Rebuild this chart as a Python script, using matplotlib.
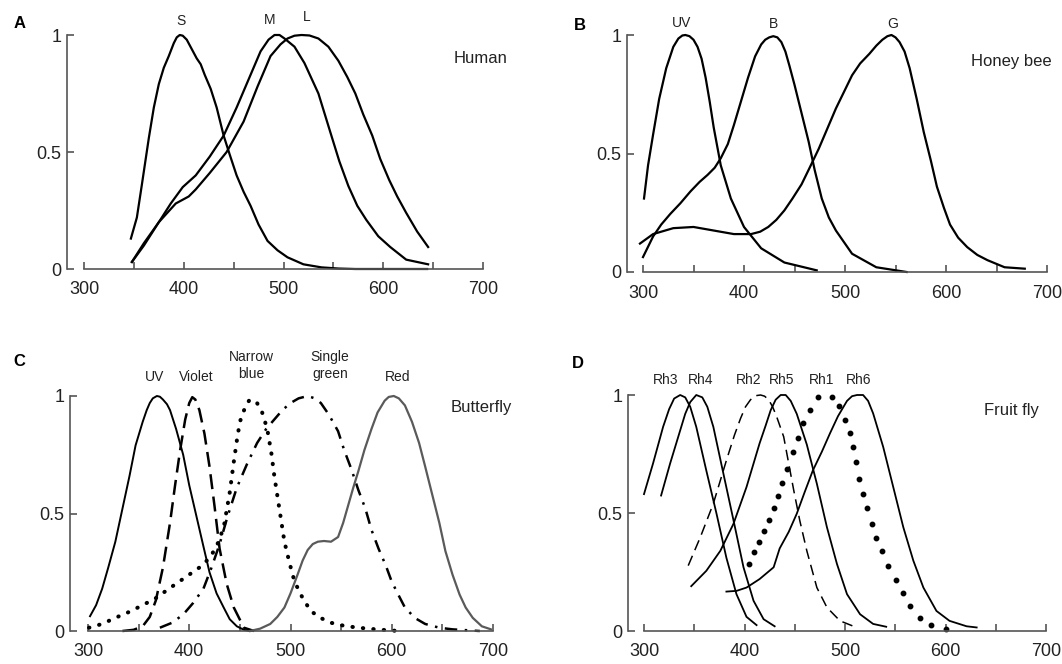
import matplotlib
matplotlib.use('Agg')
import matplotlib.pyplot as plt
from matplotlib.ticker import FixedLocator, NullFormatter

plt.rcParams['font.family'] = ['Liberation Sans', 'DejaVu Sans']

# ---------------- data (wavelength nm, normalised sensitivity) ----------------
# A: Human cones
human_s_wl = [347, 353, 358, 365, 370, 375, 380, 385, 390, 393, 396, 399, 403, 408, 413, 417, 421, 427, 433, 440, 446, 453, 460, 467, 475, 484, 494, 504, 520, 538, 555, 572, 600, 644]
human_s_val = [0.13, 0.22, 0.36, 0.56, 0.69, 0.79, 0.86, 0.91, 0.965, 0.99, 1.0, 0.997, 0.98, 0.94, 0.90, 0.875, 0.83, 0.77, 0.69, 0.57, 0.49, 0.40, 0.33, 0.27, 0.19, 0.12, 0.08, 0.05, 0.02, 0.007, 0.002, 0.0, 0.0, 0.0]
human_m_wl = [348, 360, 375, 387, 399, 412, 426, 440, 453, 467, 477, 485, 491, 496, 501, 511, 521, 535, 548, 556, 565, 574, 583, 595, 607, 623, 645]
human_m_val = [0.03, 0.10, 0.20, 0.28, 0.35, 0.40, 0.48, 0.57, 0.69, 0.83, 0.93, 0.98, 1.0, 1.0, 0.985, 0.95, 0.88, 0.75, 0.57, 0.46, 0.355, 0.27, 0.21, 0.14, 0.094, 0.04, 0.02]
human_l_wl = [348, 360, 375, 392, 405, 412, 426, 443, 460, 474, 487, 497, 504, 511, 518, 526, 535, 545, 555, 564, 572, 580, 589, 597, 606, 614, 623, 634, 645]
human_l_val = [0.03, 0.11, 0.20, 0.28, 0.31, 0.34, 0.41, 0.50, 0.63, 0.78, 0.91, 0.96, 0.985, 0.997, 1.0, 0.998, 0.985, 0.95, 0.89, 0.82, 0.75, 0.66, 0.57, 0.47, 0.38, 0.31, 0.24, 0.16, 0.094]

# B: Honey bee
bee_uv_wl = [301, 305, 310, 316, 323, 330, 335, 339, 342, 346, 350, 354, 358, 362, 366, 370, 377, 387, 400, 417, 440, 472]
bee_uv_val = [0.31, 0.45, 0.58, 0.73, 0.86, 0.95, 0.985, 0.998, 1.0, 0.995, 0.98, 0.95, 0.90, 0.82, 0.72, 0.61, 0.45, 0.31, 0.19, 0.10, 0.04, 0.007]
bee_b_wl = [300, 310, 318, 327, 337, 347, 356, 364, 371, 377, 384, 390, 397, 404, 411, 417, 421, 425, 429, 433, 437, 441, 445, 450, 457, 464, 470, 477, 484, 491, 507, 531, 561]
bee_b_val = [0.063, 0.15, 0.20, 0.245, 0.29, 0.34, 0.38, 0.41, 0.44, 0.48, 0.54, 0.62, 0.72, 0.82, 0.91, 0.96, 0.98, 0.99, 0.995, 0.99, 0.97, 0.93, 0.87, 0.79, 0.67, 0.55, 0.43, 0.31, 0.23, 0.175, 0.077, 0.02, 0.0]
bee_g_wl = [297, 310, 330, 350, 370, 390, 407, 416, 424, 432, 440, 448, 457, 465, 474, 482, 491, 499, 507, 515, 524, 531, 537, 542, 546, 550, 554, 559, 564, 571, 578, 585, 591, 598, 604, 612, 621, 631, 641, 658, 678]
bee_g_val = [0.12, 0.16, 0.185, 0.19, 0.175, 0.16, 0.16, 0.17, 0.19, 0.22, 0.26, 0.31, 0.37, 0.44, 0.52, 0.60, 0.69, 0.76, 0.83, 0.88, 0.92, 0.955, 0.98, 0.995, 1.0, 0.99, 0.97, 0.93, 0.86, 0.73, 0.59, 0.47, 0.36, 0.27, 0.20, 0.145, 0.105, 0.072, 0.05, 0.02, 0.014]

# C: Butterfly
bf_uv_wl = [302, 308, 314, 320, 327, 334, 341, 347, 354, 358, 361, 364, 368, 371, 374, 378, 381, 387, 394, 400, 407, 414, 420, 427, 434, 440, 447, 454, 460]
bf_uv_val = [0.063, 0.11, 0.18, 0.27, 0.38, 0.52, 0.66, 0.79, 0.89, 0.94, 0.97, 0.99, 1.0, 0.997, 0.985, 0.965, 0.94, 0.86, 0.75, 0.62, 0.49, 0.36, 0.25, 0.16, 0.10, 0.05, 0.02, 0.005, 0.0]
bf_violet_wl = [334, 345, 354, 361, 367, 374, 381, 386, 391, 396, 400, 403, 406, 410, 415, 420, 425, 430, 437, 444, 454, 464]
bf_violet_val = [0.0, 0.005, 0.02, 0.06, 0.13, 0.27, 0.46, 0.62, 0.77, 0.90, 0.97, 0.995, 0.985, 0.94, 0.84, 0.70, 0.53, 0.35, 0.20, 0.10, 0.014, 0.0]
bf_nblue_wl = [301, 314, 327, 340, 354, 367, 380, 390, 400, 410, 420, 427, 434, 440, 444, 447, 450, 455, 459, 463, 467, 472, 477, 481, 484, 489, 494, 499, 504, 512, 520, 530, 540, 553, 567, 587, 607]
bf_nblue_val = [0.014, 0.03, 0.056, 0.08, 0.11, 0.14, 0.18, 0.21, 0.24, 0.27, 0.31, 0.36, 0.44, 0.59, 0.72, 0.81, 0.89, 0.95, 0.98, 0.985, 0.97, 0.93, 0.86, 0.76, 0.66, 0.52, 0.38, 0.29, 0.21, 0.14, 0.085, 0.055, 0.035, 0.022, 0.014, 0.006, 0.0]
bf_green_wl = [371, 383, 394, 404, 414, 422, 430, 438, 447, 457, 467, 476, 484, 492, 500, 508, 517, 524, 530, 538, 547, 553, 560, 567, 574, 580, 587, 594, 600, 607, 613, 623, 633, 647, 660, 687]
bf_green_val = [0.014, 0.035, 0.07, 0.12, 0.18, 0.27, 0.37, 0.49, 0.61, 0.71, 0.80, 0.86, 0.90, 0.94, 0.97, 0.99, 1.0, 0.99, 0.97, 0.92, 0.85, 0.77, 0.69, 0.60, 0.52, 0.43, 0.35, 0.28, 0.21, 0.15, 0.10, 0.055, 0.03, 0.014, 0.007, 0.0]
bf_red_wl = [460, 470, 480, 487, 494, 500, 507, 512, 517, 522, 527, 533, 540, 547, 552, 557, 562, 567, 573, 580, 586, 593, 597, 602, 607, 613, 620, 627, 633, 640, 647, 653, 660, 667, 673, 680, 689, 698]
bf_red_val = [0.0, 0.01, 0.03, 0.06, 0.10, 0.16, 0.24, 0.30, 0.345, 0.37, 0.38, 0.383, 0.38, 0.40, 0.46, 0.535, 0.61, 0.68, 0.77, 0.86, 0.93, 0.98, 0.996, 1.0, 0.99, 0.96, 0.89, 0.80, 0.70, 0.58, 0.46, 0.34, 0.24, 0.155, 0.10, 0.056, 0.02, 0.007]

# D: Fruit fly
fly_rh3_wl = [300, 309, 319, 325, 330, 336, 341, 346, 352, 362, 372, 382, 392, 402, 412]
fly_rh3_val = [0.58, 0.71, 0.865, 0.94, 0.985, 1.0, 0.99, 0.95, 0.865, 0.68, 0.50, 0.31, 0.156, 0.06, 0.025]
fly_rh4_wl = [317, 326, 336, 341, 346, 352, 358, 363, 369, 379, 389, 399, 409, 419, 430]
fly_rh4_val = [0.574, 0.71, 0.85, 0.92, 0.97, 1.0, 0.99, 0.95, 0.865, 0.667, 0.47, 0.27, 0.128, 0.05, 0.02]
fly_rh2_wl = [344, 356, 369, 382, 390, 396, 401, 406, 411, 416, 420, 424, 428, 432, 439, 449, 455, 462, 472, 482, 495, 512]
fly_rh2_val = [0.277, 0.397, 0.54, 0.723, 0.83, 0.90, 0.95, 0.98, 0.997, 1.0, 0.995, 0.98, 0.95, 0.908, 0.823, 0.596, 0.468, 0.34, 0.184, 0.10, 0.043, 0.014]
fly_rh5_wl = [347, 362, 376, 389, 402, 415, 421, 426, 431, 436, 441, 446, 452, 462, 472, 482, 492, 502, 515, 528, 541]
fly_rh5_val = [0.19, 0.255, 0.34, 0.454, 0.61, 0.795, 0.87, 0.935, 0.98, 1.0, 1.0, 0.975, 0.92, 0.79, 0.624, 0.44, 0.284, 0.156, 0.071, 0.03, 0.018]
fly_rh1_wl = [404, 409, 414, 419, 424, 429, 433, 437, 442, 448, 453.5, 458.5, 465, 473.5, 487, 494, 500, 505, 508, 511, 514, 518, 522, 527, 531, 536.5, 543, 551, 557.5, 565, 575, 586, 600]
fly_rh1_val = [0.286, 0.333, 0.376, 0.423, 0.471, 0.522, 0.574, 0.627, 0.688, 0.759, 0.816, 0.88, 0.936, 0.993, 0.99, 0.953, 0.894, 0.84, 0.78, 0.716, 0.646, 0.582, 0.52, 0.454, 0.394, 0.337, 0.277, 0.216, 0.163, 0.106, 0.057, 0.026, 0.01]
fly_rh6_wl = [382, 392, 402, 415, 429, 435, 444, 452, 460, 468, 477, 485, 493, 502, 507, 512, 518, 523, 528, 538, 548, 558, 568, 578, 591, 604, 621, 631]
fly_rh6_val = [0.167, 0.17, 0.184, 0.22, 0.27, 0.35, 0.42, 0.497, 0.59, 0.68, 0.76, 0.837, 0.91, 0.975, 0.995, 1.0, 1.0, 0.975, 0.922, 0.78, 0.61, 0.44, 0.298, 0.184, 0.085, 0.043, 0.02, 0.015]

xtick_major = [300, 400, 500, 600, 700]
xtick_minor = [350, 450, 550, 650]
ytick_vals = [0, 0.5, 1]
ytick_labels = ['0', '0.5', '1']

W, H = 1062, 664
fig = plt.figure(figsize=(W / 100, H / 100), dpi=100)
fig.patch.set_facecolor('white')

AXIS_COLOR = '#555555'
TEXT_COLOR = '#222222'


def make_axes(yaxis_px, x300_px, x700_px, y1_px, y0_px):
    """Place an axes so that data coords map onto the scanned pixel layout."""
    ppn = (x700_px - x300_px) / 400.0
    ppu = (y0_px - y1_px) / 1.0
    right_px = x700_px + 14
    top_px = y1_px - 30
    bot_px = y0_px + 6
    ax = fig.add_axes([yaxis_px / W, 1 - bot_px / H,
                       (right_px - yaxis_px) / W, (bot_px - top_px) / H])
    ax.set_xlim(300 - (x300_px - yaxis_px) / ppn, 700 + 14 / ppn)
    ax.set_ylim(-6 / ppu, 1 + 30 / ppu)
    ax.patch.set_alpha(0)
    for side in ['top', 'right']:
        ax.spines[side].set_visible(False)
    ax.spines['left'].set_bounds(0, 1)
    ax.spines['bottom'].set_bounds(300, 700)
    ax.spines['bottom'].set_position(('data', 0))
    for side in ['left', 'bottom']:
        ax.spines[side].set_color(AXIS_COLOR)
        ax.spines[side].set_linewidth(1.2)
    ax.xaxis.set_major_locator(FixedLocator(xtick_major))
    ax.xaxis.set_minor_locator(FixedLocator(xtick_minor))
    ax.xaxis.set_minor_formatter(NullFormatter())
    ax.set_yticks(ytick_vals)
    ax.set_yticklabels(ytick_labels)
    ax.tick_params(axis='both', which='both', direction='in', length=5,
                   width=1.2, color=AXIS_COLOR, labelsize=13, labelcolor=TEXT_COLOR)
    ax.tick_params(axis='x', which='major', pad=9)
    ax.tick_params(axis='y', pad=4)
    return ax


def label(ax, x, y, s, size=10):
    ax.text(x, y, s, ha='center', va='center', fontsize=size, color=TEXT_COLOR,
            linespacing=1.3, clip_on=False)


LW = 1.6

# ---- A: Human ----
axA = make_axes(67, 84, 483, 35, 269)
axA.plot(human_s_wl, human_s_val, color='black', lw=LW)
axA.plot(human_m_wl, human_m_val, color='black', lw=LW)
axA.plot(human_l_wl, human_l_val, color='black', lw=LW)
label(axA, 397, 1.06, 'S')
label(axA, 486, 1.065, 'M')
label(axA, 523, 1.075, 'L')
label(axA, 698, 0.90, 'Human', 12)

# ---- B: Honey bee ----
axB = make_axes(627, 643, 1047, 35, 272)
axB.plot(bee_uv_wl, bee_uv_val, color='black', lw=LW)
axB.plot(bee_b_wl, bee_b_val, color='black', lw=LW)
axB.plot(bee_g_wl, bee_g_val, color='black', lw=LW)
label(axB, 338, 1.05, 'UV')
label(axB, 429, 1.045, 'B')
label(axB, 547, 1.045, 'G')
label(axB, 665, 0.887, 'Honey bee', 12)

# ---- C: Butterfly ----
axC = make_axes(70, 88, 493, 396, 631)
axC.plot(bf_uv_wl, bf_uv_val, color='black', lw=1.4)
axC.plot(bf_violet_wl, bf_violet_val, color='black', lw=1.8, linestyle=(0, (6, 3)))
axC.plot(bf_nblue_wl, bf_nblue_val, color='black', lw=2.9, linestyle=(0, (0.1, 2.5)),
         dash_capstyle='round')
axC.plot(bf_green_wl, bf_green_val, color='black', lw=1.8, linestyle=(0, (5, 3, 1, 3)))
axC.plot(bf_red_wl, bf_red_val, color='#5a5a5a', lw=1.6)
label(axC, 366, 1.08, 'UV')
label(axC, 407, 1.08, 'Violet')
label(axC, 461, 1.13, 'Narrow\nblue')
label(axC, 539, 1.13, 'Single\ngreen')
label(axC, 606, 1.08, 'Red')
label(axC, 688, 0.953, 'Butterfly', 12)

# ---- D: Fruit fly ----
axD = make_axes(628, 644, 1046, 395, 631)
axD.plot(fly_rh3_wl, fly_rh3_val, color='black', lw=1.3)
axD.plot(fly_rh4_wl, fly_rh4_val, color='black', lw=1.3)
axD.plot(fly_rh2_wl, fly_rh2_val, color='black', lw=1.1, linestyle=(0, (7, 4)))
axD.plot(fly_rh5_wl, fly_rh5_val, color='black', lw=1.3)
axD.plot(fly_rh1_wl, fly_rh1_val, color='black', linestyle='none', marker='o',
         markersize=3.2)
axD.plot(fly_rh6_wl, fly_rh6_val, color='black', lw=1.3)
label(axD, 322, 1.065, 'Rh3')
label(axD, 356, 1.065, 'Rh4')
label(axD, 404, 1.065, 'Rh2')
label(axD, 437, 1.065, 'Rh5')
label(axD, 477, 1.065, 'Rh1')
label(axD, 514, 1.065, 'Rh6')
label(axD, 666, 0.935, 'Fruit fly', 12)

# panel letters
for letter, px, py in [('A', 20, 24), ('B', 580, 25), ('C', 19, 361), ('D', 578, 363)]:
    fig.text(px / W, 1 - py / H, letter, ha='center', va='center', fontsize=12,
             fontweight='bold', color='black')

fig.savefig('out.png', dpi=100, facecolor='white')
